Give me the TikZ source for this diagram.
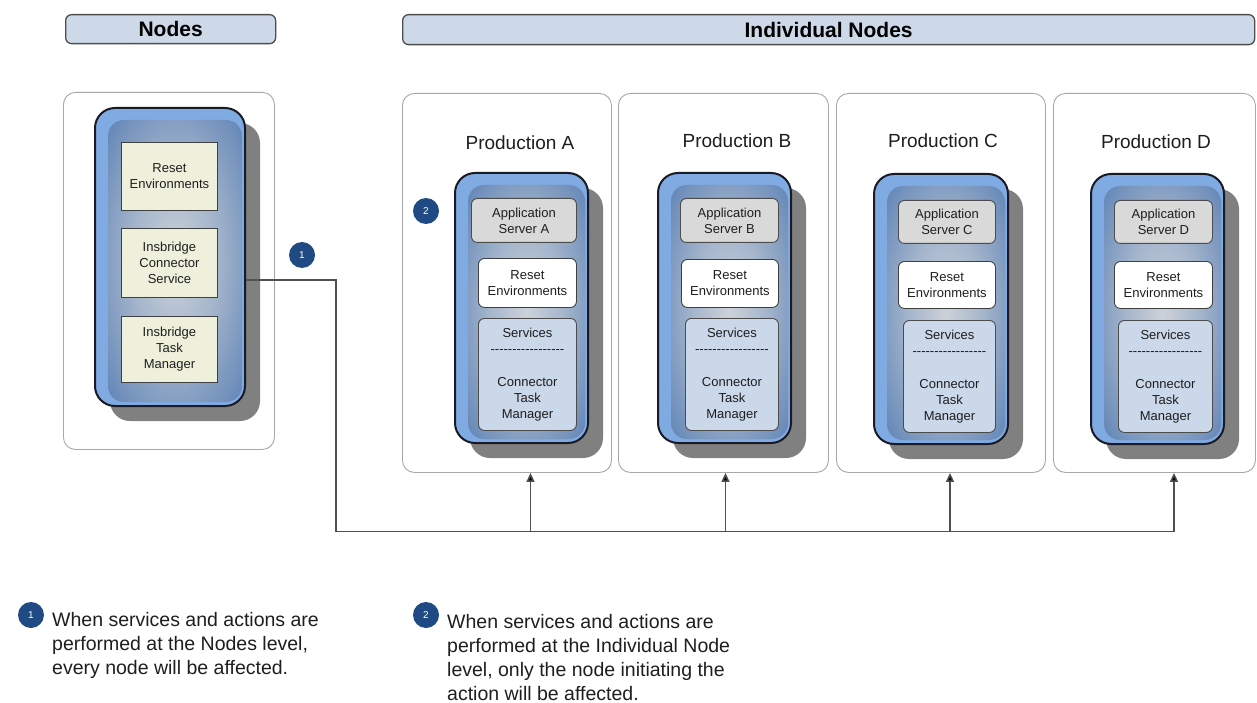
\documentclass[tikz,border=0pt]{standalone}
\usepackage{fontspec}
\setmainfont{Liberation Sans}
\usetikzlibrary{arrows.meta,shadows}
\definecolor{hdrfill}{HTML}{CDD9E8}
\definecolor{hdrline}{HTML}{4D4D4D}
\definecolor{contline}{HTML}{A8A8A8}
\definecolor{band}{HTML}{80AAE2}
\definecolor{shout}{HTML}{4470AD}
\definecolor{shin}{HTML}{CDD2D9}
\definecolor{pline}{HTML}{1A1A24}
\definecolor{beige}{HTML}{EEF0DC}
\definecolor{appgray}{HTML}{D9D9D9}
\definecolor{svcblue}{HTML}{CAD8EA}
\definecolor{navy}{HTML}{1F4A84}
\definecolor{connc}{HTML}{505050}
\definecolor{txt}{HTML}{1E1E1E}
\pgfdeclareradialshading{glow}{\pgfpoint{0bp}{0bp}}{color(0bp)=(shin); color(16bp)=(shin!70!shout); color(44bp)=(shout); color(50bp)=(shout)}
\newcommand\boxat[7]{\node[#2,minimum width=#5pt,minimum height=#6pt] (#1) at (#3,#4) {#7};}
\newcommand\dashrow{-{}-{}-{}-{}-{}-{}-{}-{}-{}-{}-{}-{}-{}-{}-{}-{}-{}}
\begin{document}
\begin{tikzpicture}[x=1pt,y=-1pt,
  hdr/.style={draw=hdrline,line width=1.3pt,fill=hdrfill,rounded corners=6pt,anchor=north west,inner sep=0pt,text=black,font=\fontsize{21}{24}\selectfont\bfseries},
  cont/.style={draw=contline,line width=0.9pt,fill=white,rounded corners=12pt,anchor=north west,inner sep=0pt},
  panel/.style={draw=pline,line width=2pt,fill=band,rounded corners=20pt,anchor=north west,inner sep=0pt,general shadow={fill=black!50,shadow xshift=15pt,shadow yshift=-15pt}},
  ibox/.style={anchor=north west,inner sep=0pt,align=center,text=txt,font=\fontsize{13}{16}\selectfont},
  beigebox/.style={ibox,draw=black!75,line width=0.9pt,fill=beige},
  appbox/.style={ibox,draw=black!70,line width=0.9pt,fill=appgray,rounded corners=6pt},
  resetbox/.style={ibox,draw=black!75,line width=0.9pt,fill=white,rounded corners=6pt},
  svcbox/.style={ibox,draw=black!70,line width=0.9pt,fill=svcblue,rounded corners=6pt},
  ptitle/.style={inner sep=0pt,text=txt,font=\fontsize{19}{22}\selectfont},
  num/.style={circle,fill=navy,inner sep=0pt,minimum size=26pt,text=white,font=\fontsize{10}{12}\selectfont},
  note/.style={anchor=north west,inner sep=0pt,align=left,text=txt,font=\fontsize{19.5}{24}\selectfont},
  conn/.style={draw=connc,line width=1.5pt},
  arr/.style={conn,-{Triangle[length=9pt,width=8pt,fill=black]}}
]
\useasboundingbox (0,0) rectangle (1257,703);

% headers
\boxat{hN}{hdr}{65}{14}{210}{29}{Nodes}
\boxat{hI}{hdr}{402}{14}{852}{30}{Individual Nodes}

% left container
\boxat{L}{cont}{63}{92}{211}{357}{}
\boxat{P0}{panel}{94}{107}{150}{298}{}
\shade[shading=glow,rounded corners=16pt] ([shift={(14,13)}]P0.north west) rectangle ([shift={(-4,-5)}]P0.south east);
\boxat{r0}{beigebox}{121}{142}{96}{68}{Reset\\Environments}
\boxat{c0}{beigebox}{121}{228}{96}{69}{Insbridge\\Connector\\Service}
\boxat{t0}{beigebox}{121}{316}{96}{66}{Insbridge\\Task\\Manager}

% production containers
\boxat{prodA}{cont}{402}{93}{209}{379}{}
\boxat{prodB}{cont}{618}{93}{210}{379}{}
\boxat{prodC}{cont}{836}{93}{209}{379}{}
\boxat{prodD}{cont}{1053}{93}{202}{379}{}

\node[ptitle] (tA) at (520,143) {Production A};
\node[ptitle] (tB) at (737,141) {Production B};
\node[ptitle] (tC) at (943,141) {Production C};
\node[ptitle] (tD) at (1156,142) {Production D};

% panels
\boxat{pA}{panel}{454}{172}{133}{270}{}
\boxat{pB}{panel}{657}{172}{133}{270}{}
\boxat{pC}{panel}{873}{173}{134}{270}{}
\boxat{pD}{panel}{1090}{173}{133}{270}{}
\foreach \p in {pA,pB,pC,pD}{
  \shade[shading=glow,rounded corners=16pt] ([shift={(14,13)}]\p.north west) rectangle ([shift={(-4,-5)}]\p.south east);
}

% application servers
\boxat{aA}{appbox}{471}{198}{105}{44}{Application\\Server A}
\boxat{aB}{appbox}{680}{198}{98}{44}{Application\\Server B}
\boxat{aC}{appbox}{898}{200}{97}{43}{Application\\Server C}
\boxat{aD}{appbox}{1114}{200}{98}{43}{Application\\Server D}

% reset environments
\boxat{rA}{resetbox}{478}{258}{98}{49}{Reset\\Environments}
\boxat{rB}{resetbox}{681}{259}{97}{48}{Reset\\Environments}
\boxat{rC}{resetbox}{898}{261}{97}{47}{Reset\\Environments}
\boxat{rD}{resetbox}{1114}{261}{98}{47}{Reset\\Environments}

% services
\boxat{sA}{svcbox}{478}{318}{98}{112}{Services\\\dashrow\\[17pt]Connector\\Task\\Manager}
\boxat{sB}{svcbox}{685}{318}{93}{112}{Services\\\dashrow\\[17pt]Connector\\Task\\Manager}
\boxat{sC}{svcbox}{903}{320}{92}{112}{Services\\\dashrow\\[17pt]Connector\\Task\\Manager}
\boxat{sD}{svcbox}{1118}{320}{94}{112}{Services\\\dashrow\\[17pt]Connector\\Task\\Manager}

% markers
\node[num] (n1) at (302,255) {1};
\node[num] (n2) at (426,211) {2};

% connectors
\coordinate (j0) at (336,531.5);
\coordinate (jA) at (530.5,531.5);
\coordinate (jB) at (725.5,531.5);
\coordinate (jC) at (950,531.5);
\coordinate (jD) at (1174,531.5);
\draw[conn] ([yshift=-23pt]P0.east) -| (j0) -- (jD);
\draw[arr] (jA) -- (jA |- prodA.south);
\draw[arr] (jB) -- (jB |- prodB.south);
\draw[arr] (jC) -- (jC |- prodC.south);
\draw[arr] (jD) -- (jD |- prodD.south);

% notes
\node[num] (b1) at (31,615) {1};
\node[note] (t1) at (52,612) {When services and actions are\\performed at the Nodes level,\\every node will be affected.};
\node[num] (b2) at (426,615) {2};
\node[note] (t2) at (447,614) {When services and actions are\\performed at the Individual Node\\level, only the node initiating the\\action will be affected.};
\end{tikzpicture}
\end{document}
